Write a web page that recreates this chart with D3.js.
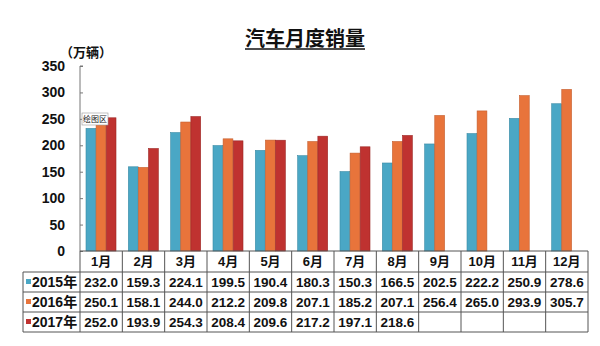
<!DOCTYPE html>
<html><head><meta charset="utf-8">
<script src="https://cdn.jsdelivr.net/npm/d3@7"></script>
<style>body{margin:0;background:#fff}svg{display:block}</style>
</head><body>
<svg id="c" width="600" height="346"></svg>
<script>
const months = ["1月","2月","3月","4月","5月","6月","7月","8月","9月","10月","11月","12月"];
const seriesNames = ["2015年","2016年","2017年"];
const sales2015 = [232.0,159.3,224.1,199.5,190.4,180.3,150.3,166.5,202.5,222.2,250.9,278.6];
const sales2016 = [250.1,158.1,244.0,212.2,209.8,207.1,185.2,207.1,256.4,265.0,293.9,305.7];
const sales2017 = [252.0,193.9,254.3,208.4,209.6,217.2,197.1,218.6,null,null,null,null];
const yTicks = [0,50,100,150,200,250,300,350];
const colors = ["#4aa7c5","#e8743b","#bf3230"];
const strokes = ["#3b8aa4","#c45c2b","#9c2624"];

(function () {
const allSeries = [sales2015, sales2016, sales2017];
const svg = d3.select("#c");
const font = "'Liberation Sans','Noto Sans CJK SC',Arial,sans-serif";

const pLeft = 80, pRight = 588, pTop = 66, pBottom = 251;
const x0 = d3.scaleBand().domain(months).range([pLeft, pRight]).padding(0);
const x1 = d3.scaleBand().domain(seriesNames).range([6, 36]).paddingInner(0.03);
const y = d3.scaleLinear().domain([0, 350]).range([pBottom, pTop]);

// title
const title = svg.append("text").attr("x", 305).attr("y", 46).attr("text-anchor", "middle")
  .attr("font-family", font).attr("font-weight", "bold").attr("font-size", 20).attr("fill", "#111")
  .text("汽车月度销量");
const tb = title.node().getBBox();
svg.append("line").attr("x1", tb.x).attr("x2", tb.x + tb.width).attr("y1", 49).attr("y2", 49)
  .attr("stroke", "#111").attr("stroke-width", 1.5);

// unit
svg.append("text").attr("x", 60).attr("y", 57).attr("font-family", font).attr("font-weight", "bold")
  .attr("font-size", 13).attr("fill", "#111").text("（万辆）");

// bars
const g = svg.append("g");
allSeries.forEach((vals, si) => {
  g.selectAll(null).data(months.map((m, i) => ({m, v: vals[i]})).filter(d => d.v != null))
    .join("rect")
    .attr("x", d => x0(d.m) + x1(seriesNames[si]))
    .attr("width", x1.bandwidth())
    .attr("y", d => y(d.v))
    .attr("height", d => y(0) - y(d.v))
    .attr("fill", colors[si])
    .attr("stroke", strokes[si]).attr("stroke-width", 0.6);
});

// y axis
const yAxis = d3.axisRight(y).tickValues(yTicks).tickSize(3).tickFormat("");
const ya = svg.append("g").attr("transform", `translate(${pLeft},0)`).call(yAxis);
ya.selectAll("path,line").attr("stroke", "#777");
ya.select(".domain").attr("d", `M3,${pTop}H0V${pBottom}`);
svg.selectAll(".ylab").data(yTicks).join("text").attr("class", "ylab")
  .attr("x", 65).attr("y", d => y(d)).attr("dy", "0.36em").attr("text-anchor", "end")
  .attr("font-family", font).attr("font-weight", "bold").attr("font-size", 14).attr("fill", "#111")
  .text(d => d);

// table
const rowY = [251, 272, 292, 312, 332];
const tleft = 23;
const lineC = "#555";
const t = svg.append("g");
t.append("line").attr("x1", pLeft).attr("x2", pRight).attr("y1", rowY[0]).attr("y2", rowY[0]).attr("stroke", lineC);
for (let r = 1; r < rowY.length; r++) {
  t.append("line").attr("x1", tleft).attr("x2", pRight).attr("y1", rowY[r]).attr("y2", rowY[r]).attr("stroke", lineC);
}
t.append("line").attr("x1", tleft).attr("x2", tleft).attr("y1", rowY[1]).attr("y2", rowY[4]).attr("stroke", lineC);
months.forEach(m => {
  t.append("line").attr("x1", x0(m)).attr("x2", x0(m)).attr("y1", rowY[0]).attr("y2", rowY[4]).attr("stroke", lineC);
});
t.append("line").attr("x1", pRight).attr("x2", pRight).attr("y1", rowY[0]).attr("y2", rowY[4]).attr("stroke", lineC);

t.selectAll(".mh").data(months).join("text").attr("class", "mh")
  .attr("x", d => x0(d) + x0.bandwidth() / 2).attr("y", (rowY[0] + rowY[1]) / 2).attr("dy", "0.36em")
  .attr("text-anchor", "middle").attr("font-family", font).attr("font-weight", "bold")
  .attr("font-size", 13).attr("fill", "#111").text(d => d);

allSeries.forEach((vals, si) => {
  const cy = (rowY[si + 1] + rowY[si + 2]) / 2;
  t.append("rect").attr("x", 26).attr("y", cy - 3).attr("width", 5).attr("height", 5).attr("fill", colors[si]);
  t.append("text").attr("x", 32).attr("y", cy).attr("dy", "0.36em")
    .attr("font-family", font).attr("font-weight", "bold").attr("font-size", 14).attr("fill", "#111")
    .text(seriesNames[si]);
  t.selectAll(null).data(months.map((m, i) => ({m, v: vals[i]})).filter(d => d.v != null))
    .join("text")
    .attr("x", d => x0(d.m) + x0.bandwidth() / 2).attr("y", cy).attr("dy", "0.36em")
    .attr("text-anchor", "middle").attr("font-family", font).attr("font-weight", "bold")
    .attr("font-size", 13.5).attr("fill", "#111").text(d => d.v.toFixed(1));
});

// plot-area tooltip
const tip = svg.append("g").attr("transform", "translate(82,113)");
tip.append("rect").attr("width", 26).attr("height", 12).attr("fill", "#fff").attr("stroke", "#999").attr("stroke-width", 0.6);
tip.append("text").attr("x", 13).attr("y", 6).attr("dy", "0.36em").attr("text-anchor", "middle")
  .attr("font-family", font).attr("font-size", 8).attr("fill", "#222").text("绘图区");
})();
</script>
</body></html>
